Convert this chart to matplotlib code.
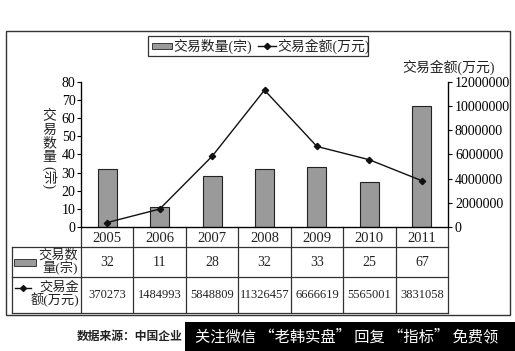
import numpy as np
import matplotlib.pyplot as plt
from matplotlib.patches import Rectangle
from matplotlib.lines import Line2D

plt.rcParams['font.family'] = ['Liberation Serif', 'Noto Sans CJK SC']

# data
years = ['2005', '2006', '2007', '2008', '2009', '2010', '2011']
deal_count = [32, 11, 28, 32, 33, 25, 67]
deal_value = [370273, 1484993, 5848809, 11326457, 6666619, 5565001, 3831058]
left_ticks = [0, 10, 20, 30, 40, 50, 60, 70, 80]
right_ticks = [0, 2000000, 4000000, 6000000, 8000000, 10000000, 12000000]

W, H = 515, 351
fig = plt.figure(figsize=(W / 100, H / 100), dpi=100)

# pixel overlay for frame, table, legend
pix = fig.add_axes([0, 0, 1, 1], zorder=0)
pix.set_xlim(0, W)
pix.set_ylim(H, 0)
pix.axis('off')

x_left, x_right, y_top, y_base = 81, 448, 82, 227
ax = fig.add_axes([x_left / W, 1 - y_base / H, (x_right - x_left) / W, (y_base - y_top) / H], zorder=2)
ax.patch.set_alpha(0)

bar_color = '#9a9a9a'
x = np.arange(len(years))
ax.bar(x, deal_count, width=0.36, color=bar_color, edgecolor='#222222', linewidth=0.8)
ax.set_xlim(-0.5, len(years) - 0.5)
ax.set_ylim(0, 80)
ax.set_yticks(left_ticks)
ax.set_xticks([])
ax.tick_params(axis='y', length=3, width=0.8, pad=1, labelsize=10)
ax.spines['top'].set_visible(False)
for s in ax.spines.values():
    s.set_linewidth(0.9)

ax2 = ax.twinx()
ax2.plot(x, deal_value, color='#111111', lw=1.0, marker='D', ms=3.2)
ax2.set_ylim(0, 12000000)
ax2.set_yticks(right_ticks)
ax2.set_yticklabels([str(v) for v in right_ticks])
ax2.tick_params(axis='y', length=3, width=0.8, pad=2, labelsize=10)
ax2.spines['top'].set_visible(False)

# axis titles (left one stacked vertically)
for k, ch in enumerate('交易数量'):
    pix.text(49, 116 + k * 14, ch, ha='center', va='center', fontsize=10, color='#222222')
pix.text(49, 178, '(宗)', ha='center', va='center', rotation=-90, fontsize=10, color='#222222')
pix.text(402, 67, '交易金额(万元)', ha='left', va='center', fontsize=10, color='#222222')

# outer frame
pix.add_patch(Rectangle((6, 31), 504, 284, fill=False, ec='#333333', lw=1.0))

# legend
pix.add_patch(Rectangle((148, 36), 220, 20, fill=False, ec='#333333', lw=0.9))
pix.add_patch(Rectangle((152, 43), 20, 6, fc=bar_color, ec='#222222', lw=0.6))
pix.text(173, 46, '交易数量(宗)', ha='left', va='center', fontsize=10, color='#222222')
pix.add_line(Line2D([258, 276], [46, 46], color='#111111', lw=1.0))
pix.plot([267], [46], marker='D', ms=3.2, color='#111111')
pix.text(277, 46, '交易金额(万元)', ha='left', va='center', fontsize=10, color='#222222')

# data table
col_w = (x_right - x_left) / len(years)
tab_l, r1, r2, tab_b = 12, 247, 277, 313
lc = '#333333'
for yy in [r1, r2, tab_b]:
    pix.add_line(Line2D([tab_l, x_right], [yy, yy], color=lc, lw=0.9))
pix.add_line(Line2D([tab_l, tab_l], [r1, tab_b], color=lc, lw=0.9))
for k in range(len(years) + 1):
    xx = x_left + k * col_w
    pix.add_line(Line2D([xx, xx], [y_base, tab_b], color=lc, lw=0.9))

for i in range(len(years)):
    cx = x_left + (i + 0.5) * col_w
    pix.text(cx, 238, years[i], ha='center', va='center', fontsize=10.5, color='#222222')
    pix.text(cx, 262, str(deal_count[i]), ha='center', va='center', fontsize=10, color='#222222')
    pix.text(cx, 295, str(deal_value[i]), ha='center', va='center', fontsize=9, color='#222222')

pix.add_patch(Rectangle((14, 259), 22, 7, fc=bar_color, ec='#222222', lw=0.6))
pix.text(78, 262, '交易数\n量(宗)', ha='right', va='center', fontsize=9.5,
         linespacing=0.95, color='#222222')
pix.add_line(Line2D([15, 31], [288, 288], color='#111111', lw=1.0))
pix.plot([23], [288], marker='D', ms=3, color='#111111')
pix.text(79, 294, '交易金\n额(万元)', ha='right', va='center', fontsize=9.5,
         linespacing=0.95, color='#222222')

# source note and banner
pix.text(77, 337, '数据来源：中国企业', ha='left', va='center', fontsize=8.5,
         color='#222222', fontweight='bold', zorder=1)
pix.add_patch(Rectangle((185, 322), W - 185, H - 322, fc='#000000', ec='none', zorder=3))
pix.text(195, 337, '关注微信 “老韩实盘” 回复 “指标” 免费领', ha='left', va='center',
         fontsize=11, color='white', zorder=4,
         family=['Noto Sans CJK SC', 'DejaVu Sans'])

fig.savefig('out.png', dpi=100)
